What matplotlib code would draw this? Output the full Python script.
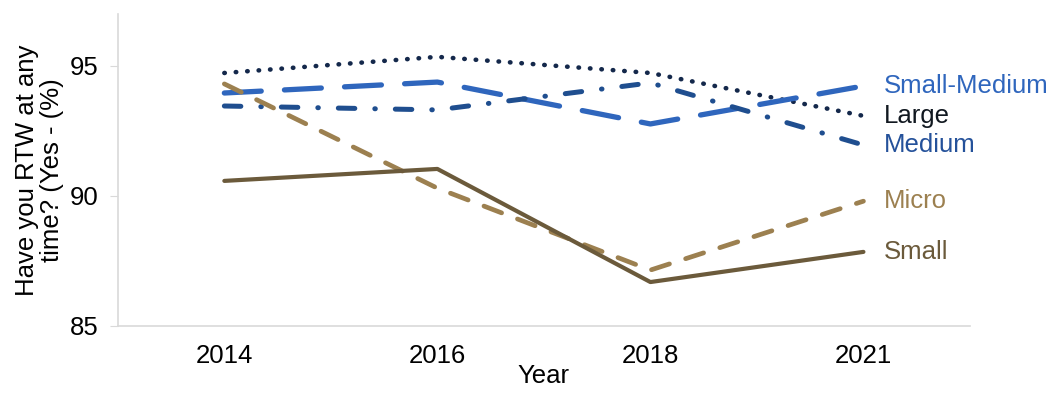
import matplotlib.pyplot as plt
import numpy as np

plt.rcParams['font.family'] = ['Liberation Sans', 'DejaVu Sans']

years = ["2014", "2016", "2018", "2021"]
large = [94.73, 95.35, 94.73, 93.08]
small_medium = [93.96, 94.38, 92.77, 94.23]
medium = [93.46, 93.31, 94.35, 91.96]
micro = [94.31, 90.30, 87.15, 89.80]
small = [90.58, 91.04, 86.69, 87.85]

x = np.arange(len(years))

fig = plt.figure(figsize=(10.52, 3.94), dpi=100)
ax = fig.add_axes([0.112, 0.1726, 0.81, 0.792])

series = [
    # name, values, colour, label colour, linewidth, dashes
    ("Large", large, "#14284B", "#111820", 3.3, (0.1, 2.4)),
    ("Small-Medium", small_medium, "#2F66BD", "#2F66BD", 3.8, (7.0, 4.4)),
    ("Medium", medium, "#1F4E8F", "#24519A", 3.6, (3.3, 4.0, 0.1, 4.0)),
    ("Micro", micro, "#9C8050", "#9C8050", 3.4, (4.0, 3.6)),
    ("Small", small, "#6B5A3B", "#6B5A3B", 3.0, None),
]

fs = 18.5

for name, vals, col, tcol, lw, dashes in series:
    line, = ax.plot(x, vals, color=col, linewidth=lw,
                    solid_capstyle='round', dash_capstyle='round')
    if dashes is not None:
        line.set_dashes(dashes)
    ax.annotate(name, xy=(x[-1], vals[-1]), xytext=(15, 0),
                textcoords='offset points', va='center', ha='left',
                color=tcol, fontsize=fs, annotation_clip=False)

ax.set_xlim(-0.5, 3.5)
ax.set_ylim(85, 97)
ax.set_xticks(x)
ax.set_xticklabels(years)
ax.set_yticks([85, 90, 95])

ax.spines['top'].set_visible(False)
ax.spines['right'].set_visible(False)
for side in ['left', 'bottom']:
    ax.spines[side].set_color('#D9D9D9')
    ax.spines[side].set_linewidth(1.2)

ax.tick_params(axis='x', length=0, labelsize=fs, pad=13)
ax.tick_params(axis='y', length=6, color='#D9D9D9', labelsize=fs, pad=8)

ax.set_xlabel("Year", fontsize=fs, labelpad=-3)
ax.set_ylabel("Have you RTW at any\ntime? (Yes - (%)", fontsize=fs,
              labelpad=4, linespacing=1.05)

fig.savefig("out.png", dpi=100)
plt.close(fig)
